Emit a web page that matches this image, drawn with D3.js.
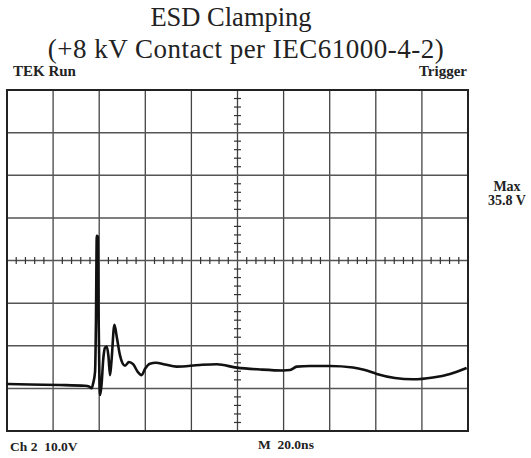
<!DOCTYPE html>
<html>
<head>
<meta charset="utf-8">
<script src="https://cdn.jsdelivr.net/npm/d3@7"></script>
<style>
  body { margin: 0; background: #fff; }
  svg { display: block; font-family: "Liberation Serif", "Times New Roman", serif; }
</style>
</head>
<body>
<div id="chart"></div>
<script>
// Scope capture, 20 ns/div horizontally, 10 V/div vertically
const timeNs = [0, 9.98, 23.0, 33.8, 35.6, 36.7, 37.3, 38.2, 38.6, 38.95, 39.4, 39.7, 40.1, 40.4, 41.0,
  41.8, 42.5, 43.3, 44.0, 44.7, 45.3, 46.6, 47.7, 49.0, 51.2, 52.9, 54.7, 56.8, 58.4, 59.9,
  62.0, 64.6, 68.5, 73.6, 83.7, 91.0, 99.7, 109.8, 119.8, 122.8, 125.7, 131.5, 140.1, 150.1,
  155.3, 160.4, 168.3, 176.1, 184.8, 192.2, 199.4];
const volts = [1.03, 0.91, 0.80, 0.61, 0.45, 0.02, 1.03, 3.85, 16.0, 35.8, 35.6, 18.4, 2.0, -1.55, 0.8,
  7.1, 9.5, 9.8, 7.6, 3.1, 6.2, 14.9, 11.8, 7.8, 5.3, 6.2, 5.7, 3.8, 3.1, 4.6,
  5.8, 6.0, 5.6, 5.1, 5.5, 5.65, 4.86, 4.43, 4.2, 4.3, 5.1, 5.25, 5.25, 4.9,
  4.3, 3.4, 2.44, 2.13, 2.56, 3.4, 4.8];

const xDivs = d3.range(0, 201, 20);     // ns grid
const yDivs = d3.range(-10, 71, 10);    // V grid
const titleLines = ['ESD Clamping', '(+8 kV Contact per IEC61000-4-2)'];

const W = 531, H = 458;
const m = { top: 90, right: 63, bottom: 27, left: 7 };

const svg = d3.select('#chart').append('svg')
    .attr('width', W).attr('height', H);

const x = d3.scaleLinear().domain([0, 200]).range([m.left, W - m.right]);
const y = d3.scaleLinear().domain([-10, 70]).range([H - m.bottom, m.top]);

// title
svg.append('text').attr('x', 231).attr('y', 26)
    .attr('text-anchor', 'middle').attr('font-size', 26.5).attr('fill', '#222')
    .text(titleLines[0]);
svg.append('text').attr('x', 246).attr('y', 58)
    .attr('text-anchor', 'middle').attr('font-size', 27).attr('letter-spacing', 0.5)
    .attr('fill', '#222')
    .text(titleLines[1]);

// grid
svg.selectAll('.vg').data(xDivs.slice(1, -1)).enter().append('line')
    .attr('x1', d => x(d)).attr('x2', d => x(d))
    .attr('y1', y(70)).attr('y2', y(-10))
    .attr('stroke', '#444').attr('stroke-width', 1.3);
svg.selectAll('.hg').data(yDivs.slice(1, -1)).enter().append('line')
    .attr('x1', x(0)).attr('x2', x(200))
    .attr('y1', d => y(d)).attr('y2', d => y(d))
    .attr('stroke', '#555').attr('stroke-width', 1.5);

// center axes minor ticks
const xMinor = d3.range(0, 201, 4).filter(d => d % 20 !== 0);
const yMinor = d3.range(-10, 71, 2).filter(d => d % 10 !== 0);
svg.selectAll('.xt').data(xMinor).enter().append('line')
    .attr('x1', d => x(d)).attr('x2', d => x(d))
    .attr('y1', y(30) - 3.5).attr('y2', y(30) + 3.5)
    .attr('stroke', '#333').attr('stroke-width', 1.2);
svg.selectAll('.yt').data(yMinor).enter().append('line')
    .attr('x1', x(100) - 3.5).attr('x2', x(100) + 3.5)
    .attr('y1', d => y(d)).attr('y2', d => y(d))
    .attr('stroke', '#333').attr('stroke-width', 1.2);

// border
svg.append('rect')
    .attr('x', x(0)).attr('y', y(70))
    .attr('width', x(200) - x(0)).attr('height', y(-10) - y(70))
    .attr('fill', 'none').attr('stroke', '#222').attr('stroke-width', 2);

// waveform
const pts = timeNs.map((t, i) => [t, volts[i]]);
const line = d3.line()
    .x(d => x(d[0])).y(d => y(d[1]))
    .curve(d3.curveMonotoneX);
svg.append('path').datum(pts)
    .attr('d', line)
    .attr('fill', 'none')
    .attr('stroke', '#111')
    .attr('stroke-width', 2.6)
    .attr('stroke-linejoin', 'round');

// scope labels
const lab = (tx, px, py, anchor, fs) => svg.append('text')
    .attr('x', px).attr('y', py).attr('text-anchor', anchor)
    .attr('font-size', fs || 15).attr('font-weight', 'bold').attr('fill', '#222')
    .attr('xml:space', 'preserve').text(tx);
lab('TEK Run', 13, 76, 'start');
lab('Trigger', 467, 76, 'end');
lab('Max', 507, 191, 'middle', 14);
lab('35.8 V', 507, 205, 'middle', 14);
lab('Ch 2  10.0V', 10, 451, 'start', 13.5);
lab('M  20.0ns', 258, 449, 'start', 13.5);
</script>
</body>
</html>
